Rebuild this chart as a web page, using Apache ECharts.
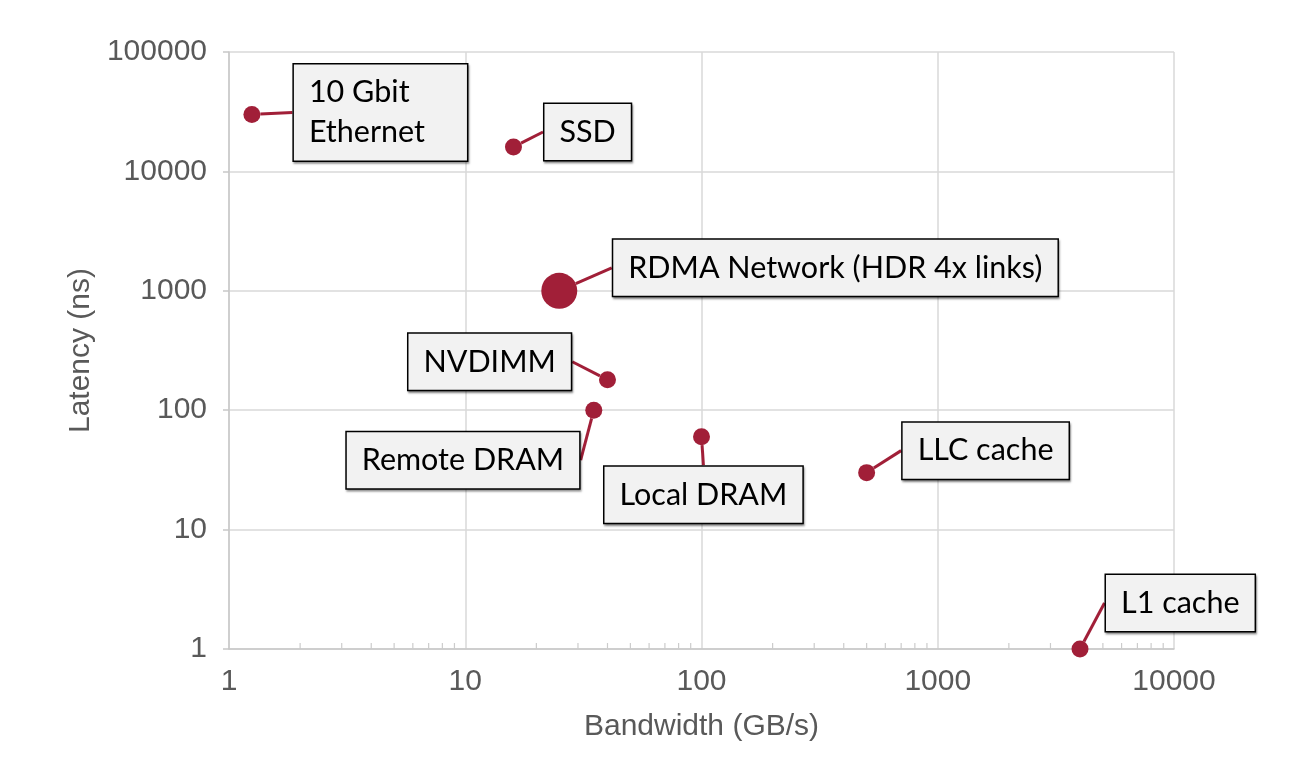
<!DOCTYPE html>
<html><head><meta charset="utf-8">
<script src="https://cdn.jsdelivr.net/npm/echarts@6/dist/echarts.min.js"></script>
<style>html,body{margin:0;padding:0;background:#fff}#c{width:1310px;height:760px}</style>
</head><body><div id="c"></div><script>
// ---- data ----
const names = ['10 Gbit\nEthernet', 'SSD', 'RDMA Network (HDR 4x links)', 'NVDIMM', 'Remote DRAM', 'Local DRAM', 'LLC cache', 'L1 cache'];
const bandwidth = [1.25, 16, 25, 40, 35, 100, 500, 4000];   // GB/s
const latency = [30000, 16000, 1000, 180, 100, 60, 30, 1]; // ns
const xTickValues = [1, 10, 100, 1000, 10000];
const yTickValues = [1, 10, 100, 1000, 10000, 100000];
const minorMultipliers = [2, 3, 4, 5, 6, 7, 8, 9];

// ---- layout (not data): label box left edge / centre offsets from the point ----
const labelOffsets = [[42, -2], [31, -15], [54, -23], [-199, -18], [-247, 50], [-97, 58], [36, -22], [26, -46]];
const bigIndex = 2;

const minorX = [];
for (let d = 0; d < xTickValues.length - 1; d++) {
  minorMultipliers.forEach(m => minorX.push(xTickValues[d] * m));
}

const RED = '#a11f38';
const AXIS_FONT = 'Liberation Sans';
const chart = echarts.init(document.getElementById('c'));
chart.setOption({
  animation: false,
  grid: { left: 229, right: 136, top: 52, bottom: 111 },
  xAxis: {
    type: 'log', logBase: 10, min: 1, max: 10000,
    name: 'Bandwidth (GB/s)', nameLocation: 'middle', nameGap: 63,
    nameTextStyle: { fontFamily: AXIS_FONT, fontSize: 30, color: '#595959' },
    axisLine: { lineStyle: { color: '#c8c8c8', width: 1.5 } },
    axisTick: { show: false },
    axisLabel: { fontFamily: AXIS_FONT, fontSize: 30, color: '#595959', margin: 18, formatter: v => String(v) },
    splitLine: { show: true, lineStyle: { color: '#d9d9d9', width: 1.5 } }
  },
  yAxis: {
    type: 'log', logBase: 10, min: 1, max: 100000,
    name: 'Latency (ns)', nameLocation: 'middle', nameGap: 130,
    nameTextStyle: { fontFamily: AXIS_FONT, fontSize: 30, color: '#595959' },
    axisLine: { show: true, lineStyle: { color: '#c8c8c8', width: 1.5 } },
    axisTick: { show: true, length: 6, lineStyle: { color: '#c8c8c8', width: 1.5 } },
    axisLabel: { fontFamily: AXIS_FONT, fontSize: 30, color: '#595959', margin: 22, formatter: v => String(v) },
    splitLine: { show: true, lineStyle: { color: '#d9d9d9', width: 1.5 } }
  },
  series: [
    {
      type: 'custom',
      silent: true,
      clip: false,
      z: 1,
      data: minorX.map(v => [v, yTickValues[0]]),
      renderItem: function (params, api) {
        const p = api.coord([api.value(0), api.value(1)]);
        return {
          type: 'line',
          shape: { x1: p[0], y1: p[1], x2: p[0], y2: p[1] - 6 },
          style: { stroke: '#cccccc', lineWidth: 1.2 }
        };
      }
    },
    {
      type: 'scatter',
      z: 5,
      data: bandwidth.map((b, i) => ({
        value: [b, latency[i]], name: names[i],
        label: i === 0 ? { padding: [8, 42, 8, 15] } : undefined
      })),
      symbolSize: function (v, p) { return p.dataIndex === bigIndex ? 36 : 17; },
      itemStyle: { color: RED, opacity: 1 },
      label: {
        show: true,
        position: 'inside',
        align: 'left',
        verticalAlign: 'middle',
        formatter: p => p.name,
        fontFamily: 'Lato',
        fontSize: 30.5,
        lineHeight: 40,
        color: '#000',
        backgroundColor: '#f2f2f2',
        borderColor: '#000',
        borderWidth: 1.5,
        padding: [8, 15, 8, 15],
        shadowColor: 'rgba(0,0,0,0.35)',
        shadowOffsetY: 2,
        shadowOffsetX: 1,
        shadowBlur: 2
      },
      labelLine: { show: true, length2: 0, lineStyle: { color: RED, width: 3 } },
      labelLayout: function (params) {
        const o = labelOffsets[params.dataIndex];
        return { dx: o[0], dy: o[1] };
      }
    }
  ]
});
</script></body></html>
